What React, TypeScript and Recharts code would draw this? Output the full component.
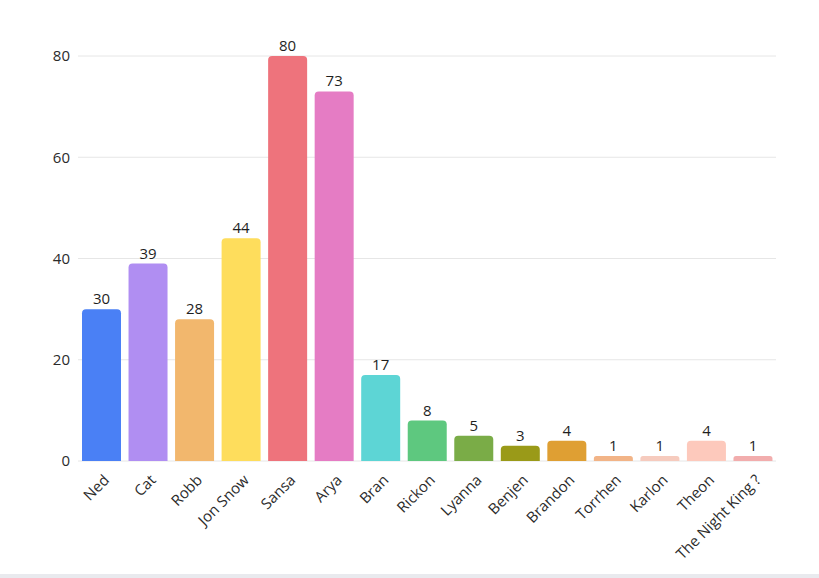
import { Bar, BarChart, CartesianGrid, Cell, LabelList, XAxis, YAxis } from 'recharts';

const names = [
  'Ned',
  'Cat',
  'Robb',
  'Jon Snow',
  'Sansa',
  'Arya',
  'Bran',
  'Rickon',
  'Lyanna',
  'Benjen',
  'Brandon',
  'Torrhen',
  'Karlon',
  'Theon',
  'The Night King ?',
];
const counts = [30, 39, 28, 44, 80, 73, 17, 8, 5, 3, 4, 1, 1, 4, 1];
const colors = [
  '#4a80f5',
  '#b08ef2',
  '#f2b76d',
  '#fedd5c',
  '#ee737c',
  '#e57cc4',
  '#5dd5d5',
  '#5ec87f',
  '#7aac47',
  '#9a9a18',
  '#df9f33',
  '#f2b487',
  '#f6cbbe',
  '#fdc9bc',
  '#f2adad',
];
const yTicks = [0, 20, 40, 60, 80];

const FONT = '"Open Sans", "Noto Sans", sans-serif';

function SlantTick({ x, y, payload }: any) {
  return (
    <g transform={`translate(${x + 9},${y + 12})`}>
      <text
        x={0}
        y={0}
        textAnchor="end"
        transform="rotate(-45)"
        fill="#2b2b2b"
        fontSize={15}
        fontFamily={FONT}
      >
        {payload.value}
      </text>
    </g>
  );
}

export default function App() {
  const data = names.map((name, i) => ({ name, count: counts[i] }));

  return (
    <div style={{ position: 'absolute', left: 0, top: 0, width: 819, height: 578, background: '#fff' }}>
      <BarChart
        width={819}
        height={574}
        data={data}
        margin={{ top: 56, right: 43, bottom: 0, left: 0 }}
        barCategoryGap={4}
      >
        <CartesianGrid vertical={false} stroke="#e6e6e6" />
        <XAxis
          dataKey="name"
          interval={0}
          height={113}
          axisLine={false}
          tickLine={false}
          tick={<SlantTick />}
        />
        <YAxis
          width={78}
          domain={[0, 80]}
          ticks={yTicks}
          axisLine={false}
          tickLine={false}
          tick={{ fill: '#2b2b2b', fontSize: 15, fontFamily: FONT }}
        />
        <Bar dataKey="count" radius={[4, 4, 0, 0]} isAnimationActive={false}>
          {data.map((d, i) => (
            <Cell key={d.name} fill={colors[i]} />
          ))}
          <LabelList
            dataKey="count"
            position="top"
            offset={5}
            fill="#1f1f1f"
            fontSize={15}
            fontFamily={FONT}
          />
        </Bar>
      </BarChart>
      <div style={{ position: 'absolute', left: 0, top: 574, width: 819, height: 4, background: '#e9eaee' }} />
    </div>
  );
}
